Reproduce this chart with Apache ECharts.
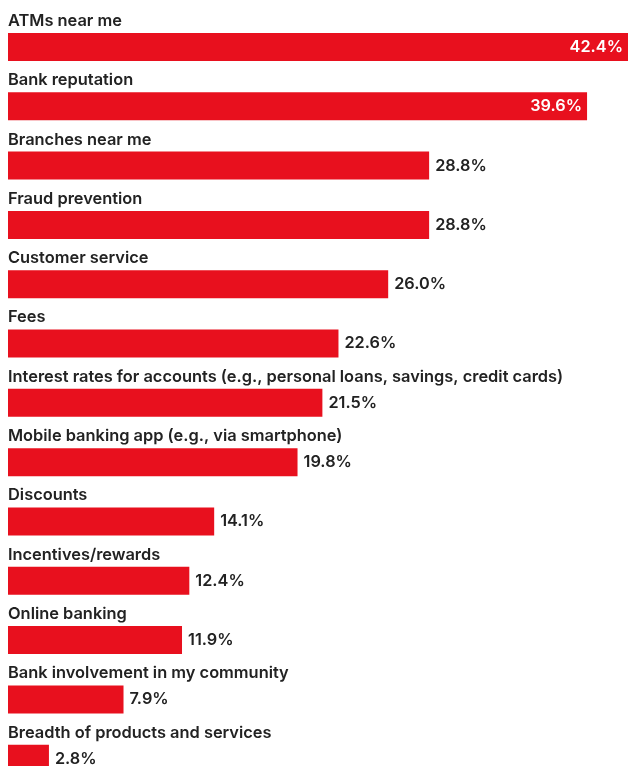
<!DOCTYPE html>
<html><head><meta charset="utf-8">
<script src="https://cdn.jsdelivr.net/npm/echarts@6/dist/echarts.min.js"></script>
<style>html,body{margin:0;padding:0;background:#fff}#c{width:628px;height:766px}</style>
</head><body><div id="c"></div>
<script>
const categories = ["ATMs near me","Bank reputation","Branches near me","Fraud prevention","Customer service","Fees","Interest rates for accounts (e.g., personal loans, savings, credit cards)","Mobile banking app (e.g., via smartphone)","Discounts","Incentives/rewards","Online banking","Bank involvement in my community","Breadth of products and services"];
const values = [42.4,39.6,28.8,28.8,26.0,22.6,21.5,19.8,14.1,12.4,11.9,7.9,2.8];
const insideCount = 2;
const FONT = 'Inter';
const chart = echarts.init(document.getElementById('c'), null, {renderer:'canvas'});
chart.setOption({
  animation:false,
  grid:{left:8, right:0, top:17.35, height:771, containLabel:false, outerBoundsMode:'none'},
  xAxis:{type:'value', min:0, max:42.4, show:false},
  yAxis:{type:'category', data:categories, inverse:true, show:false},
  series:[
    {type:'bar', barWidth:28, data:values.map((v,i)=>({value:v, label: i<insideCount ? {position:'insideRight', color:'#fff', distance:5} : {position:'right', color:'#222', distance:6}})),
     itemStyle:{color:'#E8101E'},
     label:{show:true, fontFamily:FONT, fontWeight:600, fontSize:16.3, formatter:p=>p.value.toFixed(1)+'%'}},
    {type:'bar', barWidth:28, barGap:'-100%', data:values, itemStyle:{color:'rgba(0,0,0,0)'}, silent:true,
     label:{show:true, position:[0,-20], color:'#222', fontFamily:FONT, fontWeight:600, fontSize:16.4, formatter:p=>categories[p.dataIndex]}}
  ]
});
</script></body></html>
